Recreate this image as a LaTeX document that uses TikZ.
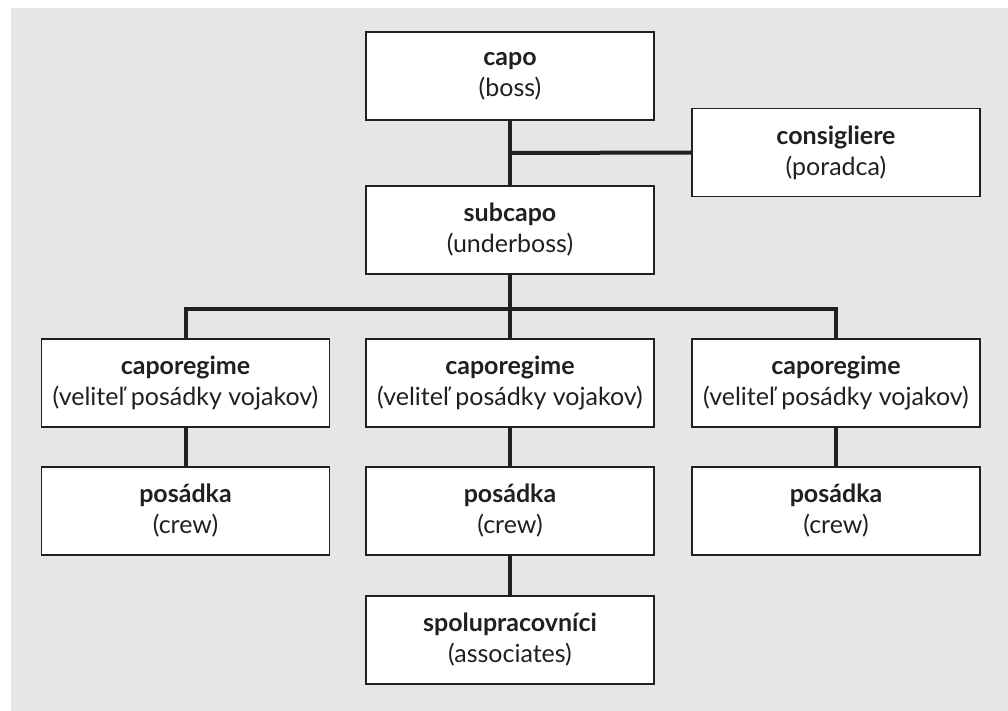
\documentclass[tikz,border=0pt]{standalone}
\usepackage{fontspec}
\setmainfont{Lato}
\definecolor{bggray}{HTML}{E5E6E8}
\definecolor{ink}{HTML}{231F20}
\begin{document}
\begin{tikzpicture}[x=1pt,y=-1pt,
  box/.style={draw=ink, line width=1.6pt, fill=white, minimum width=288pt, minimum height=88pt,
    align=center, inner sep=0pt, font=\fontsize{25}{31}\selectfont, text=ink},
  conn/.style={draw=ink, line width=4pt}]
\useasboundingbox (0,0) rectangle (1008,711);
\fill[bggray] (11,8) rectangle (1008,711);
\node[box] (capo) at (510,76) {\textbf{capo}\\(boss)};
\node[box] (cons) at (836,152.5) {\textbf{consigliere}\\(poradca)};
\node[box] (sub) at (510,230) {\textbf{subcapo}\\(underboss)};
\node[box] (cl) at (185.5,383) {\textbf{caporegime}\\(veliteľ posádky vojakov)};
\node[box] (cm) at (510,383) {\textbf{caporegime}\\(veliteľ posádky vojakov)};
\node[box] (cr) at (836,383) {\textbf{caporegime}\\(veliteľ posádky vojakov)};
\node[box] (pl) at (185.5,511) {\textbf{posádka}\\(crew)};
\node[box] (pm) at (510,511) {\textbf{posádka}\\(crew)};
\node[box] (pr) at (836,511) {\textbf{posádka}\\(crew)};
\node[box] (sp) at (510,640) {\textbf{spolupracovníci}\\(associates)};
\coordinate (j1) at (510,153);
\coordinate (j2) at (510,309);
\draw[conn] (capo.south) -- (sub.north);
\draw[conn] (j1) -- (cons.west);
\draw[conn] (sub.south) -- (j2);
\draw[conn] (cl.north) |- (j2) -| (cr.north);
\draw[conn] (j2) -- (cm.north);
\draw[conn] (cl.south) -- (pl.north);
\draw[conn] (cm.south) -- (pm.north);
\draw[conn] (cr.south) -- (pr.north);
\draw[conn] (pm.south) -- (sp.north);
\end{tikzpicture}
\end{document}
